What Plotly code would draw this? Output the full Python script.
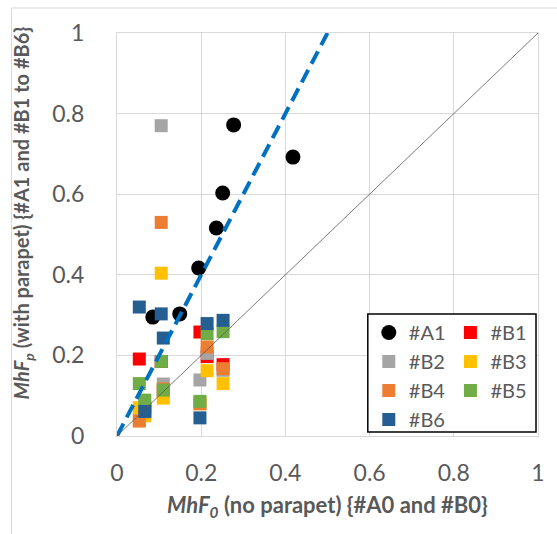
import plotly.graph_objects as go

# ---- data ----
A1_x = [0.085, 0.149, 0.194, 0.236, 0.251, 0.277, 0.418]
A1_y = [0.295, 0.303, 0.417, 0.516, 0.603, 0.772, 0.692]

B_x = [0.053, 0.066, 0.105, 0.110, 0.197, 0.214, 0.252]
B1_y = [0.191, 0.070, 0.185, 0.110, 0.258, 0.197, 0.177]
B2_y = [0.040, 0.065, 0.770, 0.129, 0.139, 0.205, 0.163]
B3_y = [0.070, 0.050, 0.404, 0.094, 0.080, 0.162, 0.130]
B4_y = [0.037, 0.060, 0.530, 0.117, 0.080, 0.221, 0.167]
B5_y = [0.130, 0.089, 0.185, 0.114, 0.086, 0.254, 0.259]
B6_y = [0.320, 0.061, 0.303, 0.243, 0.045, 0.279, 0.287]

fit_x = [0, 0.5]
fit_y = [0, 1]
unity_x = [0, 1]
unity_y = [0, 1]

tick_vals = [0, 0.2, 0.4, 0.6, 0.8, 1]
tick_text = ["0", "0.2", "0.4", "0.6", "0.8", "1"]

FONT = "Lato"
GRAY_TXT = "#595959"

fig = go.Figure()

fig.add_trace(go.Scatter(x=A1_x, y=A1_y, mode="markers", name="#A1",
                         marker=dict(symbol="circle", size=15, color="black", line=dict(width=0)),
                         legend="legend"))

b_series = [
    ("#B1", B1_y, "#FF0000", "legend2"),
    ("#B2", B2_y, "#A5A5A5", "legend"),
    ("#B3", B3_y, "#FFC000", "legend2"),
    ("#B4", B4_y, "#ED7D31", "legend"),
    ("#B5", B5_y, "#70AD47", "legend2"),
    ("#B6", B6_y, "#255E91", "legend"),
]
for name, ys, col, lg in b_series:
    fig.add_trace(go.Scatter(x=B_x, y=ys, mode="markers", name=name,
                             marker=dict(symbol="square", size=13, color=col, line=dict(width=0)),
                             legend=lg))

fig.add_trace(go.Scatter(x=fit_x, y=fit_y, mode="lines", showlegend=False,
                         line=dict(color="#0070C0", width=4, dash="14px,7px")))
fig.add_trace(go.Scatter(x=unity_x, y=unity_y, mode="lines", showlegend=False,
                         line=dict(color="#595959", width=0.8)))

axis_common = dict(range=[0, 1], tickvals=tick_vals, ticktext=tick_text,
                   showgrid=True, gridcolor="#D9D9D9", gridwidth=1,
                   zeroline=False, showline=True, linecolor="#D9D9D9", linewidth=1,
                   mirror=True, ticks="outside", tickcolor="rgba(0,0,0,0)",
                   tickfont=dict(family=FONT, size=23, color=GRAY_TXT))

fig.update_xaxes(**axis_common, ticklen=16)
fig.update_yaxes(**axis_common, ticklen=27)

legend_common = dict(bgcolor="rgba(0,0,0,0)", borderwidth=0,
                     font=dict(family=FONT, size=20, color=GRAY_TXT),
                     tracegroupgap=0, itemsizing="trace",
                     xanchor="left", yanchor="top", orientation="v")

def px2x(px):
    return (px - 117) / 423.0

def py2y(py):
    return (436 - py) / 403.0

fig.update_layout(
    width=557, height=534,
    margin=dict(l=117, r=17, t=33, b=98, pad=0),
    paper_bgcolor="white", plot_bgcolor="white",
    showlegend=True,
    legend=dict(**legend_common, x=px2x(370), y=py2y(313)),
    legend2=dict(**legend_common, x=px2x(452), y=py2y(313)),
    shapes=[
        dict(type="rect", xref="paper", yref="paper",
             x0=px2x(369), x1=px2x(538), y0=py2y(432), y1=py2y(314),
             fillcolor="white", line=dict(color="black", width=1.5), layer="above"),
        dict(type="line", xref="paper", yref="paper",
             x0=px2x(11), x1=px2x(11), y0=py2y(8), y1=py2y(540),
             line=dict(color="#D9D9D9", width=1)),
        dict(type="line", xref="paper", yref="paper",
             x0=px2x(11), x1=px2x(560), y0=py2y(8), y1=py2y(8),
             line=dict(color="#D9D9D9", width=1)),
    ],
    annotations=[
        dict(text="<b><i>MhF<sub>0</sub></i> (no parapet) {#A0 and #B0}</b>",
             xref="paper", yref="paper", x=px2x(328), y=py2y(506),
             xanchor="center", yanchor="middle", showarrow=False,
             font=dict(family=FONT, size=22, color=GRAY_TXT)),
        dict(text="<b><i>MhF<sub>p</sub></i> (with parapet) {#A1 and #B1 to #B6}</b>",
             xref="paper", yref="paper", x=px2x(22), y=py2y(213),
             xanchor="center", yanchor="middle", showarrow=False, textangle=-90,
             font=dict(family=FONT, size=20, color=GRAY_TXT)),
    ],
)

fig.write_html("out.html")
